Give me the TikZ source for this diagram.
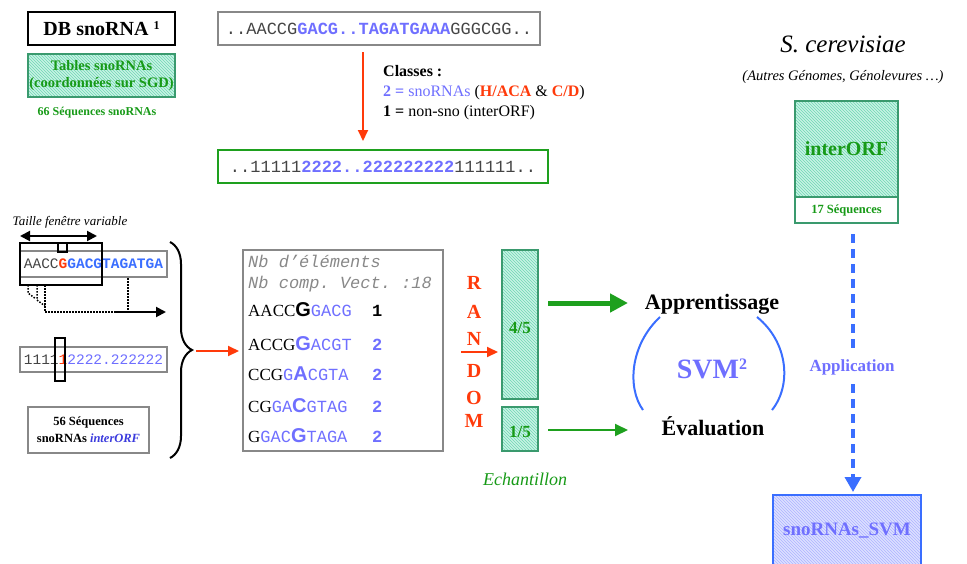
\documentclass[tikz,border=0pt]{standalone}
\usepackage{fontspec}
\setmainfont{Liberation Serif}
\setmonofont{Liberation Mono}
\setsansfont{Liberation Sans}
\usetikzlibrary{patterns,arrows.meta,decorations.pathreplacing}
\newcommand\fsz[1]{\fontsize{#1}{#1}\selectfont}
\definecolor{tealb}{HTML}{3A9A6E}
\definecolor{hatchbg}{HTML}{C8F3E4}
\definecolor{hatchln}{HTML}{6ED8B4}
\definecolor{txtg}{HTML}{179A17}
\definecolor{boxg}{HTML}{1EA01E}
\definecolor{periw}{HTML}{6F6FFF}
\definecolor{brblue}{HTML}{3A6EFF}
\definecolor{ibl}{HTML}{3A3ADD}
\definecolor{redc}{HTML}{FF3A0A}
\definecolor{grayb}{HTML}{888888}
\definecolor{dgray}{HTML}{444444}
\definecolor{bluebg}{HTML}{DCE0FF}
\definecolor{blueln}{HTML}{AEB4FF}
\newcommand\BL[2]{{\color{#1}\sffamily\bfseries\fsz{20}#2}}
\newcommand\SQ[1]{{\ttfamily\color{periw}#1}}
\tikzset{
  box/.style={draw, line width=2pt, inner sep=0pt, outer sep=0pt},
  hatchT/.style={preaction={fill=hatchbg}, pattern=north west lines, pattern color=hatchln},
  redarr/.style={draw=redc, line width=2pt, -{Triangle[length=11pt,width=10pt]}},
  blkarr/.style={draw=black, line width=2pt},
  dotln/.style={draw=black, line width=1.5pt, dash pattern=on 1.5pt off 1.5pt},
  bluedash/.style={draw=brblue, line width=3.5pt, dash pattern=on 9pt off 6pt, -{Triangle[length=15pt,width=16pt]}},
  gthick/.style={draw=boxg, line width=5pt, -{Triangle[length=18pt,width=18pt]}},
  gthin/.style={draw=boxg, line width=2pt, -{Triangle[length=13pt,width=12pt]}},
  seqline/.style={anchor=base west, font=\fsz{17}, inner sep=0pt},
  digit/.style={anchor=base west, font=\fsz{17}\ttfamily\bfseries, inner sep=0pt},
  rndl/.style={text=redc, font=\fsz{20}\bfseries, inner sep=0pt},
}
\begin{document}
\begin{tikzpicture}[x=1pt,y=-1pt]
\useasboundingbox (0,0) rectangle (967,563);

% ---- top left
\node[box, draw=black, line width=2.5pt, minimum width=147pt, minimum height=33pt, font=\fsz{20}\bfseries] (db) at (101.5,28.5) {DB snoRNA \raisebox{6pt}{\fsz{12}1}};
\node[box, draw=tealb, hatchT, minimum width=147pt, minimum height=43pt, align=center, text=txtg, font=\fontsize{14.5}{17}\selectfont\bfseries] (tab) at (101.5,75.5) {Tables snoRNAs\\(coordonnées sur SGD)};
\node[font=\fsz{12}\bfseries, text=txtg] (n66) at (97,113) {66 Séquences snoRNAs};

% ---- top sequences
\node[box, draw=grayb, minimum width=322pt, minimum height=33pt, text=dgray, font=\fsz{17}\ttfamily] (seqtop) at (379,28.5) {..AACCG\textcolor{periw}{\bfseries GACG..TAGATGAAA}GGGCGG..};
\coordinate (ra1) at (363,52);
\coordinate (ra2) at (363,141);
\draw[redarr] (ra1) -- (ra2);
\node[anchor=base west, font=\fsz{16}\bfseries, inner sep=0pt] (cl1) at (383,76) {Classes :};
\node[anchor=base west, font=\fsz{16}, inner sep=0pt] (cl2) at (383,96) {\textcolor{periw}{\textbf{2 =} snoRNAs} (\textcolor{redc}{\textbf{H/ACA}} \& \textcolor{redc}{\textbf{C/D}})};
\node[anchor=base west, font=\fsz{16}, inner sep=0pt] (cl3) at (383,116) {\textbf{1 =} non-sno (interORF)};
\node[box, draw=boxg, minimum width=330pt, minimum height=33pt, text=dgray, font=\fsz{17}\ttfamily] (seqnum) at (383,166.5) {..11111\textcolor{periw}{\bfseries 2222..222222222}111111..};

% ---- right column
\node[anchor=base, font=\fsz{25}\itshape] (scer) at (843,52) {S. cerevisiae};
\node[anchor=base, font=\fsz{14.5}\itshape] (autres) at (843,80) {(Autres Génomes, Génolevures …)};
\node[box, draw=tealb, hatchT, minimum width=103pt, minimum height=96pt, text=txtg, font=\fsz{20}\bfseries] (iorf) at (846.5,149) {interORF};
\node[box, draw=tealb, fill=white, minimum width=103pt, minimum height=26pt, text=txtg, font=\fsz{12.5}\bfseries] (iorfn) at (846.5,210) {17 Séquences};
\coordinate (da1) at (853,234);
\coordinate (da2) at (853,492);
\draw[bluedash] (da1) -- (da2);
\node[fill=white, text=periw, font=\fsz{17}\bfseries, inner xsep=2pt, inner ysep=8pt] (appl) at (852,367) {Application};
\node[box, draw=brblue, line width=2.5pt, preaction={fill=bluebg}, pattern=north west lines, pattern color=blueln, minimum width=148pt, minimum height=72pt, text=periw, font=\fsz{19}\bfseries] (svmbox) at (847,531) {snoRNAs\_SVM};

% ---- left middle
\node[font=\fsz{13}\itshape] (taille) at (70,222) {Taille fenêtre variable};
\coordinate (wa1) at (20,236);
\coordinate (wa2) at (97,236);
\draw[blkarr, {Triangle[length=10pt,width=10pt]}-{Triangle[length=10pt,width=10pt]}] (wa1) -- (wa2);
\node[box, draw=grayb, minimum width=147pt, minimum height=26pt, font=\fsz{14.5}\ttfamily] (sq1) at (93.5,264) {\textcolor{dgray}{AACC}\textcolor{redc}{\bfseries G}\textcolor{brblue}{\bfseries GACGTAGATGA}};
\node[box, draw=black, minimum width=82pt, minimum height=42pt] (win) at (60.5,264) {};
\node[box, draw=black, minimum width=9pt, minimum height=9pt] (notch) at (62,247) {};
\coordinate (q1) at (28,285);
\coordinate (q1b) at (28,293);
\coordinate (q1c) at (36,299);
\coordinate (q2) at (37,285);
\coordinate (q2b) at (37,300);
\coordinate (q2c) at (45,306);
\coordinate (q3) at (45,285);
\coordinate (q3b) at (45,312);
\coordinate (q3c) at (115,312);
\coordinate (q4) at (128,278);
\coordinate (q4b) at (128,312);
\coordinate (q5) at (166,312);
\draw[dotln] (q1) -- (q1b) -- (q1c);
\draw[dotln] (q2) -- (q2b) -- (q2c);
\draw[dotln] (q3) -- (q3b) -- (q3c);
\draw[dotln] (q4) -- (q4b);
\draw[blkarr, -{Triangle[length=10pt,width=10pt]}] (q3c) -- (q5);
\node[box, draw=grayb, minimum width=147pt, minimum height=25pt, font=\fsz{14.5}\ttfamily] (sq2) at (93.5,359.5) {\textcolor{dgray}{1111}\textcolor{redc}{1}\textcolor{periw}{2222.222222}};
\node[box, draw=black, minimum width=10pt, minimum height=43pt] (win2) at (60,359.5) {};
\node[box, draw=grayb, minimum width=121pt, minimum height=46pt, align=center, font=\fontsize{12.5}{17}\selectfont\bfseries] (n56) at (88.5,430) {56 Séquences\\snoRNAs \textcolor{ibl}{\itshape interORF}};
\coordinate (br1) at (170,242);
\coordinate (br2) at (170,458);
\draw[line width=2pt, decorate, decoration={brace, amplitude=22pt}] (br1) -- (br2);
\coordinate (rb1) at (196,351);
\coordinate (rb2) at (239,351);
\draw[redarr] (rb1) -- (rb2);

% ---- vector box
\node[box, draw=grayb, minimum width=200pt, minimum height=201pt] (mid) at (343,350.5) {};
\node[seqline, text=grayb] (nb1) at (248,267) {\ttfamily\itshape Nb d’éléments};
\node[seqline, text=grayb] (nb2) at (248,288) {\ttfamily\itshape Nb comp. Vect. :18};
\node[seqline] (s1) at (248,316) {AACC\BL{black}{G}\SQ{GACG}};
\node[digit] (d1) at (372,316) {1};
\node[seqline] (s2) at (248,350) {ACCG\BL{periw}{G}\SQ{ACGT}};
\node[digit, text=periw] (d2) at (372,350) {2};
\node[seqline] (s3) at (248,380) {CCG\SQ{G}\BL{periw}{A}\SQ{CGTA}};
\node[digit, text=periw] (d3) at (372,380) {2};
\node[seqline] (s4) at (248,412) {CG\SQ{GA}\BL{periw}{C}\SQ{GTAG}};
\node[digit, text=periw] (d4) at (372,412) {2};
\node[seqline] (s5) at (248,442) {G\SQ{GAC}\BL{periw}{G}\SQ{TAGA}};
\node[digit, text=periw] (d5) at (372,442) {2};

% ---- RANDOM
\node[rndl] (r1) at (474,283) {R};
\node[rndl] (r2) at (474,312) {A};
\node[rndl] (r3) at (474,339) {N};
\node[rndl] (r4) at (474,371) {D};
\node[rndl] (r5) at (474,398) {O};
\node[rndl] (r6) at (474,421) {M};
\coordinate (rr1) at (461,352);
\coordinate (rr2) at (498,352);
\draw[redarr] (rr1) -- (rr2);

% ---- sample boxes
\node[box, draw=tealb, hatchT, minimum width=36pt, minimum height=149pt] (b45) at (520,324.5) {};
\node[text=txtg, font=\fsz{17}\bfseries] (t45) at (520,328) {4/5};
\node[box, draw=tealb, hatchT, minimum width=36pt, minimum height=44pt] (b15) at (520,429) {};
\node[text=txtg, font=\fsz{17}\bfseries] (t15) at (520,432) {1/5};
\node[text=txtg, font=\fsz{18}\itshape] (ech) at (525,479) {Echantillon};
\coordinate (ga1) at (548,303);
\coordinate (ga2) at (628,303);
\coordinate (gb1) at (548,430);
\coordinate (gb2) at (628,430);
\draw[gthick] (ga1) -- (ga2);
\draw[gthin] (gb1) -- (gb2);

% ---- SVM
\node[anchor=base, font=\fsz{22}\bfseries] (app) at (712,309) {Apprentissage};
\node[anchor=base, font=\fsz{22}\bfseries] (eval) at (713,435) {Évaluation};
\node[anchor=base, text=periw, font=\fsz{28}\bfseries] (svm) at (712,378) {SVM\raisebox{9pt}{\fsz{16}2}};
\coordinate (la1) at (660,317);
\coordinate (la2) at (643,410);
\coordinate (lb1) at (757,317);
\coordinate (lb2) at (772,410);
\draw[brblue, line width=2pt] (la1) .. controls (630,345) and (627,388) .. (la2);
\draw[brblue, line width=2pt] (lb1) .. controls (788,342) and (792,385) .. (lb2);
\end{tikzpicture}
\end{document}
